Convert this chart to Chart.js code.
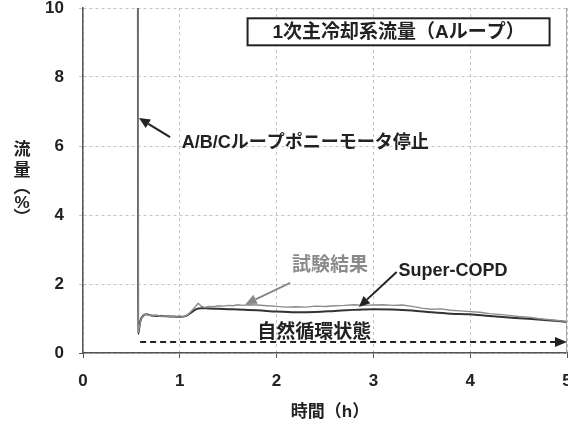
<!DOCTYPE html>
<html lang="ja">
<head>
<meta charset="utf-8">
<script src="https://cdn.jsdelivr.net/npm/chart.js@4"></script>
<style>
  html, body { margin: 0; padding: 0; background: #fff; }
  canvas { display: block; }
</style>
</head>
<body>
<canvas id="flowChart" width="568" height="425"></canvas>
<script>
// Measured primary flow (test) — time in hours, flow in %
const testTime = [0.560, 0.570, 0.585, 0.60, 0.62, 0.65, 0.68, 0.72, 0.76, 0.80, 0.85, 0.90, 0.95, 1.00, 1.05,
  1.08, 1.12, 1.16, 1.19, 1.22, 1.26, 1.30, 1.35, 1.40, 1.45, 1.50, 1.55, 1.60, 1.65, 1.70, 1.80, 1.90, 2.00,
  2.10, 2.20, 2.30, 2.40, 2.50, 2.60, 2.70, 2.80, 2.90, 3.00, 3.10, 3.20, 3.30, 3.40, 3.50, 3.60, 3.70, 3.80,
  3.90, 4.00, 4.10, 4.20, 4.30, 4.40, 4.50, 4.60, 4.70, 4.80, 4.90, 5.00];
const testFlow = [100, 0.58, 0.80, 0.98, 1.08, 1.13, 1.10, 1.08, 1.10, 1.06, 1.08, 1.05, 1.06, 1.04, 1.06,
  1.10, 1.22, 1.34, 1.44, 1.36, 1.32, 1.35, 1.34, 1.37, 1.36, 1.38, 1.37, 1.40, 1.38, 1.40, 1.39, 1.37, 1.35,
  1.33, 1.34, 1.33, 1.36, 1.35, 1.37, 1.38, 1.40, 1.38, 1.39, 1.40, 1.38, 1.39, 1.35, 1.30, 1.27, 1.28, 1.24,
  1.22, 1.20, 1.18, 1.14, 1.12, 1.09, 1.06, 1.04, 1.00, 0.97, 0.94, 0.91];

// Super-COPD calculation
const simTime = [0.560, 0.570, 0.59, 0.62, 0.66, 0.70, 0.80, 0.90, 1.00, 1.06, 1.12, 1.17, 1.22, 1.30, 1.40,
  1.50, 1.60, 1.80, 2.00, 2.20, 2.40, 2.60, 2.80, 3.00, 3.20, 3.40, 3.60, 3.80, 4.00, 4.20, 4.40, 4.60, 4.80, 5.00];
const simFlow = [100, 0.55, 0.90, 1.08, 1.12, 1.09, 1.07, 1.06, 1.05, 1.07, 1.18, 1.27, 1.30, 1.29, 1.28,
  1.27, 1.26, 1.24, 1.20, 1.18, 1.19, 1.22, 1.25, 1.27, 1.26, 1.23, 1.18, 1.14, 1.12, 1.07, 1.03, 0.99, 0.95, 0.90];

const xTicks = [0, 1, 2, 3, 4, 5];
const yTicks = [0, 2, 4, 6, 8, 10];

const FONT = '"Liberation Sans", "Noto Sans CJK JP", sans-serif';
const INK = '#222';

function toPoints(ts, vs) { return ts.map((t, i) => ({ x: t, y: vs[i] })); }

function drawArrow(ctx, x1, y1, x2, y2, color, width, headLen, headHalf, dash) {
  const ang = Math.atan2(y2 - y1, x2 - x1);
  const bx = x2 - headLen * Math.cos(ang), by = y2 - headLen * Math.sin(ang);
  ctx.save();
  ctx.strokeStyle = color; ctx.fillStyle = color; ctx.lineWidth = width;
  ctx.setLineDash(dash || []);
  ctx.beginPath(); ctx.moveTo(x1, y1); ctx.lineTo(bx, by); ctx.stroke();
  ctx.setLineDash([]);
  ctx.beginPath();
  ctx.moveTo(x2, y2);
  ctx.lineTo(bx + headHalf * Math.sin(ang), by - headHalf * Math.cos(ang));
  ctx.lineTo(bx - headHalf * Math.sin(ang), by + headHalf * Math.cos(ang));
  ctx.closePath(); ctx.fill();
  ctx.restore();
}

// Labels, arrows, frame and stacked y-axis title
const annotations = {
  id: 'annotations',
  afterDatasetsDraw(chart) {
    const { ctx, chartArea: a, scales: { x, y } } = chart;
    const px = v => x.getPixelForValue(v), py = v => y.getPixelForValue(v);
    ctx.save();

    // right frame
    ctx.strokeStyle = '#a8a8a8'; ctx.lineWidth = 1;
    ctx.beginPath(); ctx.moveTo(a.right - 0.5, a.top); ctx.lineTo(a.right - 0.5, a.bottom); ctx.stroke();

    // boxed heading
    const bx = px(3.26), by = py(9.31);
    ctx.fillStyle = '#fff'; ctx.fillRect(bx - 151, by - 13.5, 302, 27);
    ctx.strokeStyle = INK; ctx.lineWidth = 2; ctx.strokeRect(bx - 151, by - 13.5, 302, 27);
    ctx.fillStyle = INK; ctx.font = 'bold 19px ' + FONT;
    ctx.textAlign = 'center'; ctx.textBaseline = 'middle';
    ctx.fillText('1次主冷却系流量（Aループ）', bx, by + 1);

    // pony motor trip
    drawArrow(ctx, px(0.90), py(6.26), px(0.578), py(6.81), INK, 2, 11, 5);
    ctx.textAlign = 'left'; ctx.font = 'bold 18px ' + FONT;
    ctx.fillText('A/B/Cループポニーモータ停止', px(1.02), py(6.09));

    // test result label
    drawArrow(ctx, px(2.14), py(2.03), px(1.68), py(1.42), '#888', 2, 11, 5);
    ctx.fillStyle = '#8a8a8a'; ctx.font = 'bold 19px ' + FONT;
    ctx.fillText('試験結果', px(2.16), py(2.52));

    // Super-COPD label
    drawArrow(ctx, px(3.24), py(2.35), px(2.85), py(1.33), INK, 2, 11, 5);
    ctx.fillStyle = INK; ctx.font = 'bold 18px ' + FONT;
    ctx.fillText('Super-COPD', px(3.26), py(2.38));

    // natural circulation period
    drawArrow(ctx, px(0.59), py(0.32), px(5.0), py(0.32), INK, 2, 12, 5, [6, 4]);
    ctx.font = 'bold 19px ' + FONT; ctx.textAlign = 'center';
    ctx.fillText('自然循環状態', px(2.39), py(0.58));

    ctx.restore();
  },
  afterDraw(chart) {
    const { ctx } = chart;
    ctx.save();
    ctx.fillStyle = INK; ctx.font = 'bold 17px ' + FONT;
    ctx.textAlign = 'center'; ctx.textBaseline = 'middle';
    const chars = ['流', '量', '︵', '%', '︶'];
    const ys = [150, 171, 188, 203, 218];
    chars.forEach((c, i) => ctx.fillText(c, 22, ys[i]));
    // x-axis title
    ctx.fillText('時間（h）', 330, 412);
    ctx.restore();
  }
};

new Chart(document.getElementById('flowChart'), {
  type: 'line',
  data: {
    datasets: [
      { label: '試験結果', data: toPoints(testTime, testFlow), borderColor: '#8c8c8c', borderWidth: 1.4,
        pointRadius: 0, tension: 0 },
      { label: 'Super-COPD', data: toPoints(simTime, simFlow), borderColor: '#333', borderWidth: 2,
        pointRadius: 0, cubicInterpolationMode: 'monotone' }
    ]
  },
  options: {
    responsive: false, animation: false, devicePixelRatio: 1,
    layout: { padding: { top: 8, right: 1, left: 0, bottom: 0 } },
    plugins: { legend: { display: false }, tooltip: { enabled: false } },
    scales: {
      x: {
        type: 'linear', min: 0, max: 5,
        afterBuildTicks: s => { s.ticks = xTicks.map(v => ({ value: v })); },
        afterFit: s => { s.height = 72; s.paddingLeft = 0; s.paddingRight = 0; },
        ticks: { color: INK, font: { family: FONT, size: 17, weight: 'bold' }, padding: 13, maxRotation: 0 },
        grid: { color: '#c4c4c4', lineWidth: 1, tickLength: 5, tickColor: '#555', tickWidth: 1 },
        border: { color: '#555', width: 1.5, dash: [3, 3] }
      },
      y: {
        min: 0, max: 10,
        afterBuildTicks: s => { s.ticks = yTicks.map(v => ({ value: v })); },
        afterFit: s => { s.width = 83; s.paddingTop = 0; s.paddingBottom = 0; },
        ticks: { color: INK, font: { family: FONT, size: 17, weight: 'bold' }, padding: 15 },
        grid: { color: '#c4c4c4', lineWidth: 1, tickLength: 4,
          tickColor: c => (c.index === 0 ? '#555' : '#c4c4c4'), tickWidth: 1 },
        border: { color: '#555', width: 1.5, dash: [3, 3] }
      }
    }
  },
  plugins: [annotations]
});
</script>
</body>
</html>
